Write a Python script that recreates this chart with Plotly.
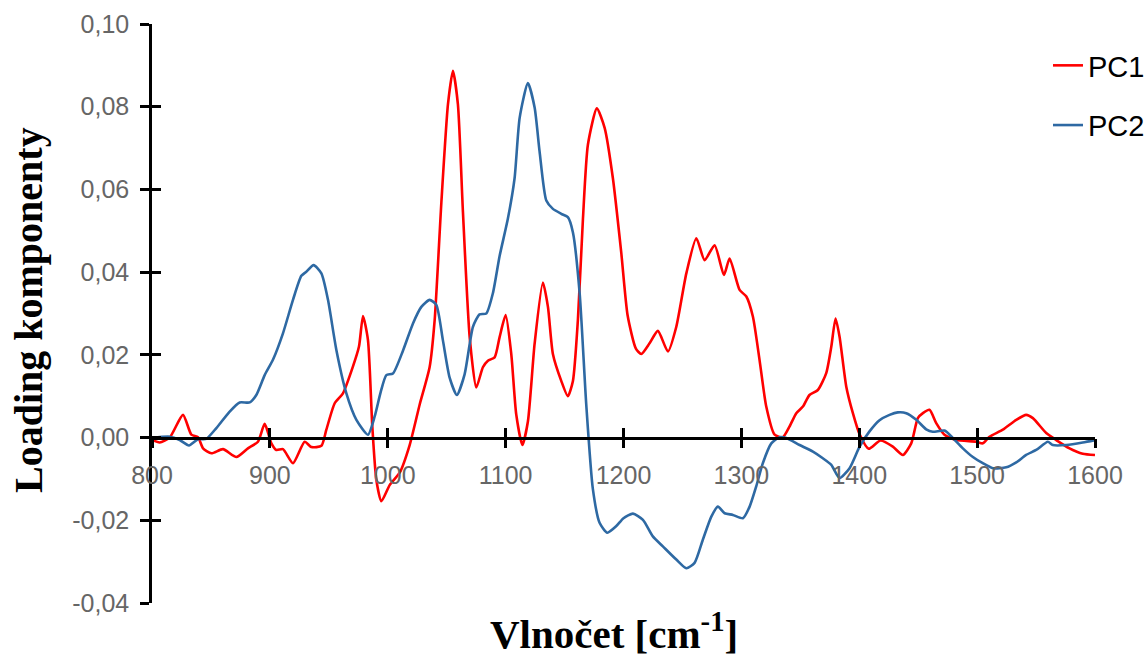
import plotly.graph_objects as go

# ---- data ----
pc1_x = [800, 806.5, 815, 826.3, 833.4, 839, 843.3, 850.4, 860.2, 871.6, 881.4, 889.9, 895.6, 901.3,
         905.5, 911.1, 919.6, 929.5, 935.2, 943.7, 947.9, 955, 962, 970.5, 975.6, 979, 983.2, 986.9,
         990.3, 994.6, 1001.6, 1010.1, 1018.6, 1027.1, 1035.5, 1039.8, 1045.5, 1051.1, 1055.3, 1059.5,
         1063.8, 1069.5, 1075.1, 1080.7, 1085, 1090.7, 1094.9, 1100, 1104.8, 1109, 1114.2, 1118.9,
         1124.6, 1131.6, 1135.9, 1140.1, 1147.2, 1152.8, 1157.1, 1161.3, 1165.6, 1169.8, 1177.4, 1184,
         1191, 1198.1, 1203.5, 1210.5, 1215.1, 1222.1, 1229.2, 1237.7, 1244.8, 1253.3, 1261.8, 1268.8,
         1277.3, 1285.2, 1290, 1298.5, 1304.2, 1309.8, 1315.4, 1321.1, 1328.2, 1335.2, 1340.9, 1346.6,
         1352.2, 1357.8, 1364.9, 1372, 1376.3, 1379.9, 1383.3, 1389, 1394.6, 1400.3, 1408, 1418,
         1428.5, 1437, 1444.1, 1449.7, 1454, 1459.6, 1465.3, 1472.3, 1482.3, 1499.2, 1504.8, 1510.5,
         1521.8, 1533.2, 1541.6, 1547.3, 1558.6, 1567.1, 1578.4, 1589.6, 1600]
pc1_y = [-0.0005, -0.0012, 0.0, 0.0055, 0.0007, 0.0001, -0.0026, -0.0038, -0.0028, -0.0047, -0.0026,
         -0.001, 0.0033, -0.0014, -0.003, -0.0028, -0.0062, -0.001, -0.0023, -0.002, 0.0019, 0.0083,
         0.0107, 0.0172, 0.022, 0.0294, 0.0236, 0.0027, -0.0102, -0.0154, -0.0115, -0.0085, -0.0018,
         0.008, 0.017, 0.0284, 0.0569, 0.0806, 0.0887, 0.0806, 0.0545, 0.0243, 0.0121, 0.017, 0.0186,
         0.0194, 0.0243, 0.0296, 0.0202, 0.0056, -0.0018, 0.0039, 0.0227, 0.0375, 0.0316, 0.0202,
         0.0137, 0.01, 0.0137, 0.0284, 0.0529, 0.0708, 0.0796, 0.0749, 0.0627, 0.0447, 0.0295, 0.0215,
         0.0202, 0.0228, 0.0258, 0.0208, 0.0268, 0.0397, 0.0482, 0.0429, 0.0465, 0.0393, 0.0433,
         0.0357, 0.0341, 0.0292, 0.0188, 0.0075, 0.0007, 0.0001, 0.0027, 0.0059, 0.0075, 0.0103,
         0.0115, 0.0156, 0.022, 0.0288, 0.0244, 0.0123, 0.0059, 0.0008, -0.0027, -0.0007, -0.0022,
         -0.0042, -0.0014, 0.0047, 0.0059, 0.0067, 0.0035, 0.0007, -0.0006, -0.001, -0.0014, 0.0002,
         0.0019, 0.0043, 0.0055, 0.0047, 0.0011, -0.0006, -0.0026, -0.0039, -0.0042]

pc2_x = [800, 815, 823.5, 831.4, 839, 846.1, 854.6, 865.9, 874.4, 882.9, 888.5, 895.6, 902.6, 911.1,
         919.6, 926.7, 930.9, 937.1, 943.7, 949.3, 956.4, 964.9, 973.4, 983.2, 988.9, 994, 998.8,
         1004.4, 1012.9, 1021.4, 1028.5, 1035.5, 1041.2, 1046.8, 1052.5, 1058.7, 1065.2, 1072.3,
         1077.9, 1083.6, 1089.2, 1094.9, 1101.9, 1107.6, 1111.9, 1118.9, 1124.6, 1128.8, 1134.5,
         1140.1, 1147.2, 1152.8, 1157.1, 1162.8, 1168.4, 1174, 1179.7, 1186.3, 1193.9, 1200, 1208,
         1216.5, 1224.9, 1233.4, 1244.8, 1253.3, 1260.3, 1267.3, 1274.5, 1280.1, 1285.8, 1292.8,
         1301.3, 1307, 1312.6, 1318.2, 1325.4, 1332.4, 1338.1, 1349.4, 1360.7, 1369.1, 1376.3,
         1383.3, 1391.8, 1400.3, 1408.7, 1417.2, 1425.7, 1432.7, 1439.9, 1448.4, 1456.8, 1462.4,
         1472.3, 1479.4, 1487.9, 1496.4, 1504.8, 1513.3, 1524.7, 1533.2, 1541.6, 1550.1, 1560,
         1564.2, 1575.6, 1589.6, 1600]
pc2_y = [-0.0001, 0.0002, -0.0006, -0.0019, -0.0004, -0.0003, 0.0023, 0.0063, 0.0085, 0.0085, 0.0103,
         0.0151, 0.0188, 0.0252, 0.0333, 0.0391, 0.0401, 0.0417, 0.0397, 0.0333, 0.0212, 0.0107,
         0.0043, 0.0007, 0.0051, 0.011, 0.0151, 0.0155, 0.021, 0.0276, 0.0316, 0.0333, 0.0321,
         0.0235, 0.0145, 0.0103, 0.0153, 0.0268, 0.0298, 0.03, 0.0349, 0.0439, 0.0529, 0.0627,
         0.0773, 0.0857, 0.0798, 0.0692, 0.0573, 0.0553, 0.0541, 0.0533, 0.0496, 0.0349, 0.008,
         -0.0124, -0.0206, -0.023, -0.0214, -0.0195, -0.0184, -0.0199, -0.0239, -0.0263, -0.0295,
         -0.0316, -0.0303, -0.0247, -0.0191, -0.0167, -0.0183, -0.0187, -0.0195, -0.0167, -0.0118,
         -0.0062, -0.0014, 0.0001, -0.0001, -0.0018, -0.0034, -0.005, -0.0066, -0.0098, -0.0074,
         -0.0022, 0.0015, 0.0042, 0.0055, 0.0061, 0.0059, 0.0043, 0.002, 0.0014, 0.0017, -0.0001,
         -0.0026, -0.0047, -0.0062, -0.0074, -0.0072, -0.006, -0.0042, -0.003, -0.001, -0.0018,
         -0.0018, -0.0012, -0.0006]

x_ticks = [800, 900, 1000, 1100, 1200, 1300, 1400, 1500, 1600]
x_tick_labels = ["800", "900", "1000", "1100", "1200", "1300", "1400", "1500", "1600"]
y_ticks = [-0.04, -0.02, 0.0, 0.02, 0.04, 0.06, 0.08, 0.10]
y_tick_labels = ["-0,04", "-0,02", "0,00", "0,02", "0,04", "0,06", "0,08", "0,10"]

series_names = ["PC1", "PC2"]
series_colors = ["#FF0000", "#2E69A3"]

x_range = [800, 1600]
y_range = [-0.04, 0.10]

# ---- figure ----
fig = go.Figure()
for name, xs, ys, col in zip(series_names, [pc1_x, pc2_x], [pc1_y, pc2_y], series_colors):
    fig.add_trace(go.Scatter(
        x=xs, y=ys, mode="lines", name=name, legendgroup=name,
        line=dict(color=col, width=2.6, shape="spline", smoothing=0.6),
    ))
# invisible helper trace so the overlay axes (inward half of crossing ticks) get drawn
fig.add_trace(go.Scatter(x=[None], y=[None], xaxis="x2", yaxis="y2",
                         showlegend=False, hoverinfo="skip"))

xpos = (0 - y_range[0]) / (y_range[1] - y_range[0])
tickfont = dict(family="Liberation Sans, Arial, sans-serif", size=25, color="#666666")

common_x = dict(range=x_range, tickmode="array", tickvals=x_ticks,
                showgrid=False, zeroline=False, anchor="free", position=xpos,
                showline=True, linecolor="black", linewidth=2.5,
                ticklen=9, tickwidth=2.5, tickcolor="black")
common_y = dict(range=y_range, tickmode="array", tickvals=y_ticks,
                showgrid=False, zeroline=False,
                showline=True, linecolor="black", linewidth=2.5,
                ticklen=9, tickwidth=2.5, tickcolor="black")

W, H = 1148, 659
fig.update_layout(
    width=W, height=H,
    margin=dict(l=152, r=53, t=24, b=56, autoexpand=False),
    paper_bgcolor="white", plot_bgcolor="white",
    xaxis=dict(**common_x, ticks="outside", ticktext=x_tick_labels, tickfont=tickfont,
               ticklabelstandoff=6),
    yaxis=dict(**common_y, ticks="outside", ticktext=y_tick_labels, tickfont=tickfont,
               ticklabelstandoff=6),
    xaxis2=dict(**common_x, ticks="inside", overlaying="x", showticklabels=False),
    yaxis2=dict(**common_y, ticks="inside", overlaying="y", showticklabels=False, anchor="x2"),
    legend=dict(xref="container", yref="container",
                x=1048 / W, y=1 - 40 / H, xanchor="left", yanchor="top",
                font=dict(family="Liberation Sans, Arial, sans-serif", size=29, color="black"),
                bgcolor="rgba(0,0,0,0)", tracegroupgap=19),
    showlegend=True,
    annotations=[
        dict(text="<b>Vlnočet [cm<sup>-1</sup>]</b>", xref="paper", yref="paper",
             x=(614 - 152) / 943, y=(603 - 658) / 579, xanchor="center", yanchor="bottom",
             showarrow=False, borderpad=0,
             font=dict(family="Liberation Serif, Times New Roman, serif", size=41, color="black")),
        dict(text="<b>Loading komponenty</b>", xref="paper", yref="paper",
             x=(28 - 152) / 943, y=(603 - 310) / 579, xanchor="center", yanchor="middle",
             textangle=-90, showarrow=False,
             font=dict(family="Liberation Serif, Times New Roman, serif", size=40, color="black")),
    ],
)

fig.write_html("out.html")
